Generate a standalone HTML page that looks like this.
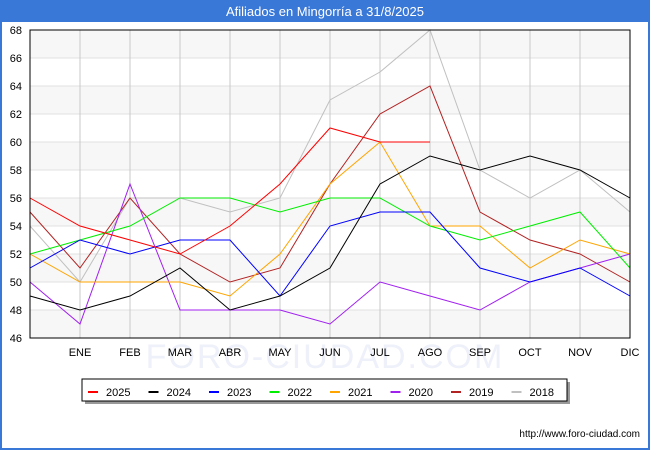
<!DOCTYPE html>
<html><head><meta charset="utf-8"><style>
body{margin:0;background:#fff;font-family:"Liberation Sans",sans-serif}
</style></head><body>
<svg width="650" height="450" xmlns="http://www.w3.org/2000/svg" font-family="Liberation Sans, sans-serif">
<rect x="0" y="0" width="650" height="450" fill="#fff"/>
<rect x="0" y="0" width="650" height="22" fill="#3a78d8"/>
<text x="325" y="16" text-anchor="middle" font-size="13" fill="#fff">Afiliados en Mingorría a 31/8/2025</text>
<rect x="0" y="22" width="2" height="428" fill="#3a78d8"/>
<rect x="648" y="22" width="2" height="428" fill="#3a78d8"/>
<rect x="0" y="448" width="650" height="2" fill="#3a78d8"/>
<g id="grid"></g>
<text x="325" y="368" text-anchor="middle" font-size="34" fill="#eef0fa" letter-spacing="2">FORO-CIUDAD.COM</text>
<g id="series"></g>
<rect x="30" y="30" width="600" height="308" fill="none" stroke="#000" stroke-width="1"/>
<g id="axes"></g>
<rect x="85" y="382" width="485" height="22" fill="#999"/>
<rect x="82" y="379" width="485" height="22" fill="#fff" stroke="#000" stroke-width="1"/>
<g id="legend"></g>
<text x="640" y="437" text-anchor="end" font-size="10" fill="#000">http://www.foro-ciudad.com</text>
</svg>
<script>
const months = ["","ENE","FEB","MAR","ABR","MAY","JUN","JUL","AGO","SEP","OCT","NOV","DIC"];
const yTicks = [46,48,50,52,54,56,58,60,62,64,66,68];
const seriesNames = ["2025","2024","2023","2022","2021","2020","2019","2018"];
const seriesColors = ["#ff0000","#000000","#0000ff","#00ee00","#ffa500","#a020f0","#b22222","#c0c0c0"];
const s2025 = [56,54,53,52,54,57,61,60,60];
const s2024 = [49,48,49,51,48,49,51,57,59,58,59,58,56];
const s2023 = [51,53,52,53,53,49,54,55,55,51,50,51,49];
const s2022 = [52,53,54,56,56,55,56,56,54,53,54,55,51];
const s2021 = [52,50,50,50,49,52,57,60,54,54,51,53,52];
const s2020 = [50,47,57,48,48,48,47,50,49,48,50,51,52];
const s2019 = [55,51,56,52,50,51,57,62,64,55,53,52,50];
const s2018 = [54,50,56,56,55,56,63,65,68,58,56,58,55];
const allSeries = [s2025,s2024,s2023,s2022,s2021,s2020,s2019,s2018];
const NS="http://www.w3.org/2000/svg";
const X0=30,X1=630,Y0=338,Y1=30,YMIN=46,YMAX=68;
const xs=i=>X0+(X1-X0)*i/(months.length-1);
const ys=v=>Y0-(v-YMIN)*(Y0-Y1)/(YMAX-YMIN);
function mk(tag,attrs,parent){const e=document.createElementNS(NS,tag);for(const k in attrs)e.setAttribute(k,attrs[k]);parent.appendChild(e);return e;}
const grid=document.getElementById('grid'),axes=document.getElementById('axes'),ser=document.getElementById('series'),leg=document.getElementById('legend');
for(let i=0;i<yTicks.length-1;i++){
  if(i%2===0){const r=mk('rect',{x:X0,y:ys(yTicks[i+1]),width:X1-X0,height:ys(yTicks[i])-ys(yTicks[i+1]),fill:'#f7f7f7'},grid);
  
  }
}
yTicks.forEach(v=>{
  const l=mk('line',{x1:X0,x2:X1,y1:ys(v),y2:ys(v),stroke:'#e0e0e0'},grid);
  
  
  const t=mk('text',{x:X0-8,y:ys(v)+4,'text-anchor':'end','font-size':11,fill:'#000'},axes);
  t.textContent=v;
  
  
});
months.forEach((m,i)=>{
  if(i===0)return;
  const l=mk('line',{x1:xs(i),x2:xs(i),y1:Y1,y2:Y0,stroke:'#c8c8c8'},grid);
  
  
  const t=mk('text',{x:xs(i),y:356,'text-anchor':'middle','font-size':11,fill:'#000'},axes);
  t.textContent=m;
  
  
});
for(let k=allSeries.length-1;k>=0;k--){
  const d=allSeries[k].map((v,i)=>xs(i)+','+ys(v)).join(' ');
  const p=mk('polyline',{points:d,fill:'none',stroke:seriesColors[k],'stroke-width':1},ser);
  
  
}
seriesNames.forEach((n,k)=>{
  const x=88+k*60.5;
  const l=mk('line',{x1:x,x2:x+10,y1:392,y2:392,stroke:seriesColors[k],'stroke-width':2},leg);
  
  
  const t=mk('text',{x:x+18,y:396,'font-size':11,fill:'#000'},leg);
  t.textContent=n;
  
  
});
</script>
</body></html>
